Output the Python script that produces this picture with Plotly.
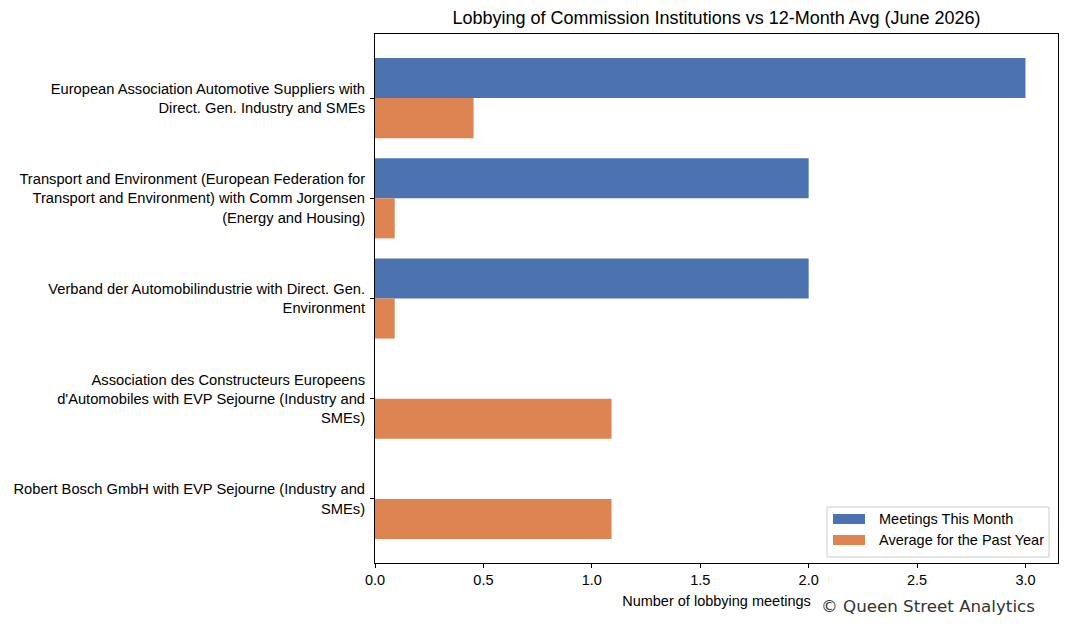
import plotly.graph_objects as go

categories = [
    "European Association Automotive Suppliers with<br>Direct. Gen. Industry and SMEs",
    "Transport and Environment (European Federation for<br>Transport and Environment) with Comm Jorgensen<br>(Energy and Housing)",
    "Verband der Automobilindustrie with Direct. Gen.<br>Environment",
    "Association des Constructeurs Europeens<br>d'Automobiles with EVP Sejourne (Industry and<br>SMEs)",
    "Robert Bosch GmbH with EVP Sejourne (Industry and<br>SMEs)",
]
meetings_this_month = [3, 2, 2, 0, 0]
avg_past_year = [5 / 11, 1 / 11, 1 / 11, 12 / 11, 12 / 11]
x_ticks = [0.0, 0.5, 1.0, 1.5, 2.0, 2.5, 3.0]
series_names = ["Meetings This Month", "Average for the Past Year"]
series_colors = ["#4c72b0", "#dd8452"]

FONT = "Liberation Sans, Arial, sans-serif"
W, H = 1076, 628
L, R, T, B = 375, 18, 34, 65
PW, PH = W - L - R, H - T - B

def px(x):
    return (x - L) / PW

def py(y):
    return 1 - (y - T) / PH

fig = go.Figure()
for name, vals, col in zip(series_names, [meetings_this_month, avg_past_year], series_colors):
    fig.add_trace(go.Bar(y=categories, x=vals, orientation="h", name=name,
                         marker=dict(color=col, line=dict(width=0)), showlegend=False))

fig.update_layout(
    width=W, height=H,
    margin=dict(l=L, r=R, t=T, b=B),
    paper_bgcolor="white", plot_bgcolor="white",
    font=dict(family=FONT, size=14.7, color="black"),
    barmode="group", bargap=0.2, bargroupgap=0,
    title=dict(text="Lobbying of Commission Institutions vs 12-Month Avg (June 2026)",
               x=(L + W - R) / 2 / W, xanchor="center", y=1 - 18 / H, yanchor="middle",
               font=dict(size=18, family=FONT, color="black")),
    xaxis=dict(range=[0, 3.15], tickvals=x_ticks, ticktext=[f"{v:.1f}" for v in x_ticks],
               showgrid=False, zeroline=False, showline=True, mirror=True,
               linecolor="black", linewidth=1, ticks="outside", ticklen=4, tickcolor="black",
               tickfont=dict(size=14.5),
               title=dict(text="Number of lobbying meetings", font=dict(size=14.5), standoff=8)),
    yaxis=dict(range=[4.64, -0.64], showgrid=False, zeroline=False, showline=True, mirror=True,
               linecolor="black", linewidth=1, ticks="outside", ticklen=4, tickcolor="black",
               ticklabelstandoff=2),
    showlegend=False,
)

# legend box drawn manually (matplotlib style)
fig.add_shape(type="rect", xref="paper", yref="paper",
              x0=px(827), x1=px(1049), y0=py(557), y1=py(507),
              line=dict(color="#cccccc", width=1), fillcolor="rgba(255,255,255,0.8)", layer="above")
for i, (name, col) in enumerate(zip(series_names, series_colors)):
    yc = 519 + i * 21
    fig.add_shape(type="rect", xref="paper", yref="paper",
                  x0=px(833), x1=px(865), y0=py(yc + 5), y1=py(yc - 5),
                  line=dict(width=0), fillcolor=col, layer="above")
    fig.add_annotation(text=name, xref="paper", yref="paper", x=px(877), y=py(yc),
                       xanchor="left", yanchor="middle", showarrow=False,
                       font=dict(size=14.5, family=FONT, color="black"))

fig.add_annotation(text="© Queen Street Analytics", xref="paper", yref="paper",
                   x=px(1037), y=py(606), xanchor="right", yanchor="middle",
                   showarrow=False, font=dict(family="DejaVu Sans", size=16.7, color="#333333"))

fig.write_html("out.html")
